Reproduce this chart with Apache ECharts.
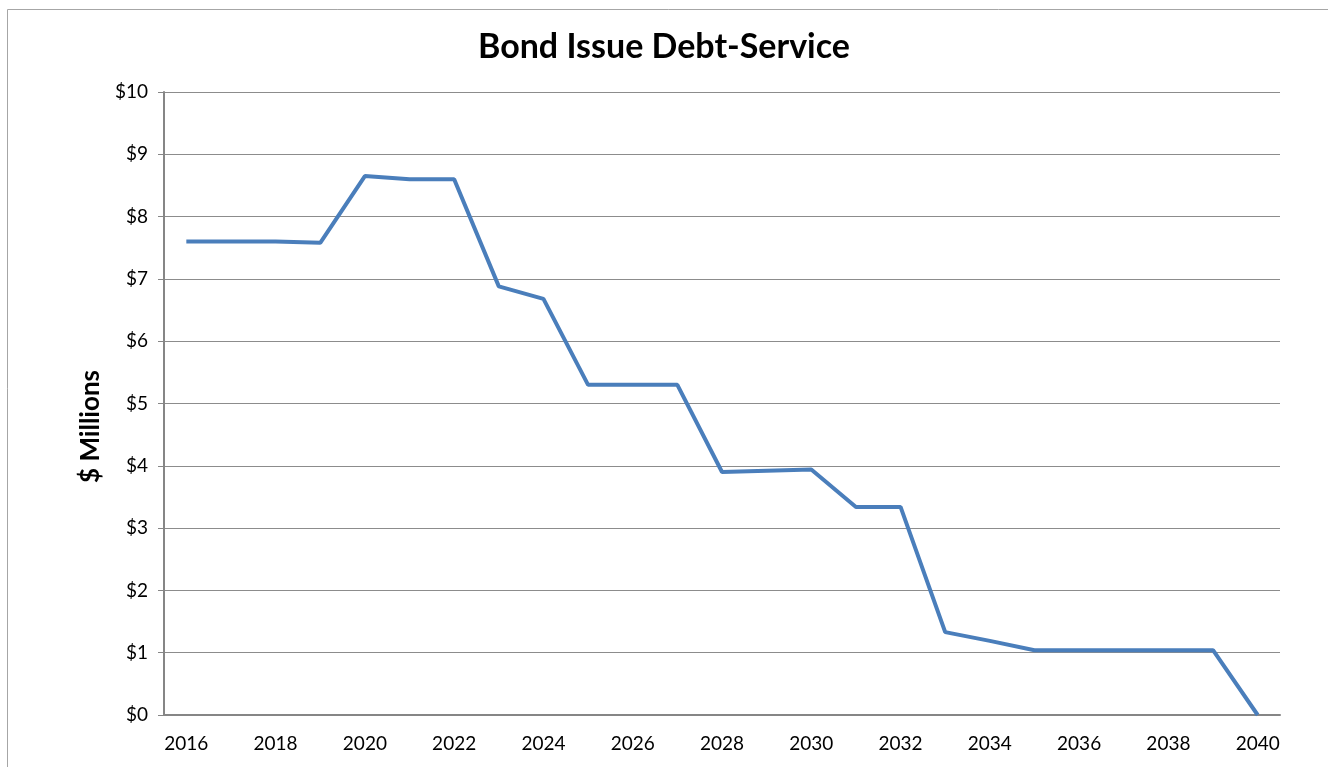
<!DOCTYPE html>
<html>
<head>
<meta charset="utf-8">
<script src="https://cdn.jsdelivr.net/npm/echarts@6/dist/echarts.min.js"></script>
<style>
html,body{margin:0;padding:0;background:#fff;}
#chart{width:1328px;height:767px;}
</style>
</head>
<body>
<div id="chart"></div>
<script>
const titleText = 'Bond Issue Debt-Service';
const yAxisName = '$ Millions';
const years = ['2016','2017','2018','2019','2020','2021','2022','2023','2024','2025','2026','2027','2028','2029','2030','2031','2032','2033','2034','2035','2036','2037','2038','2039','2040'];
const debtService = [7.6, 7.6, 7.6, 7.58, 8.65, 8.6, 8.6, 6.88, 6.68, 5.3, 5.3, 5.3, 3.9, 3.92, 3.94, 3.34, 3.34, 1.33, 1.19, 1.04, 1.04, 1.04, 1.04, 1.04, 0];

const chart = echarts.init(document.getElementById('chart'), null, {renderer: 'canvas'});
const font = 'Lato, "Open Sans", sans-serif';
chart.setOption({
  animation: false,
  backgroundColor: '#fff',
  graphic: [{
    type: 'rect', left: 5, top: 7, silent: true,
    shape: {width: 1340, height: 800},
    style: {fill: 'none', stroke: '#a6a6a6', lineWidth: 1}
  }],
  title: {
    text: titleText, left: 'center', top: 25,
    textStyle: {fontFamily: font, fontWeight: 'bold', fontSize: 34, color: '#000'}
  },
  grid: {left: 164, right: 48, top: 92, bottom: 52, containLabel: false},
  xAxis: {
    type: 'category', data: years, boundaryGap: true,
    axisLine: {lineStyle: {color: '#868686', width: 2}},
    axisTick: {alignWithLabel: true, length: 6, lineStyle: {color: '#868686', width: 1}},
    axisLabel: {interval: 1, color: '#000', fontFamily: font, fontSize: 19, margin: 19}
  },
  yAxis: {
    type: 'value', min: 0, max: 10, interval: 1,
    name: yAxisName, nameLocation: 'middle', nameGap: 60, nameRotate: 90,
    nameTextStyle: {fontFamily: font, fontWeight: 'bold', fontSize: 26, color: '#000', padding: [0, 46, 0, 0]},
    axisLine: {show: true, lineStyle: {color: '#868686', width: 2}},
    axisTick: {show: true, length: 6, lineStyle: {color: '#868686'}},
    splitLine: {lineStyle: {color: '#8c8c8c', width: 1}},
    axisLabel: {formatter: v => '$' + v, color: '#000', fontFamily: font, fontSize: 19, margin: 16}
  },
  series: [{
    type: 'line', data: debtService, symbol: 'none',
    lineStyle: {color: '#4a7ebb', width: 4},
    itemStyle: {color: '#4a7ebb'}
  }]
});
</script>
</body>
</html>
